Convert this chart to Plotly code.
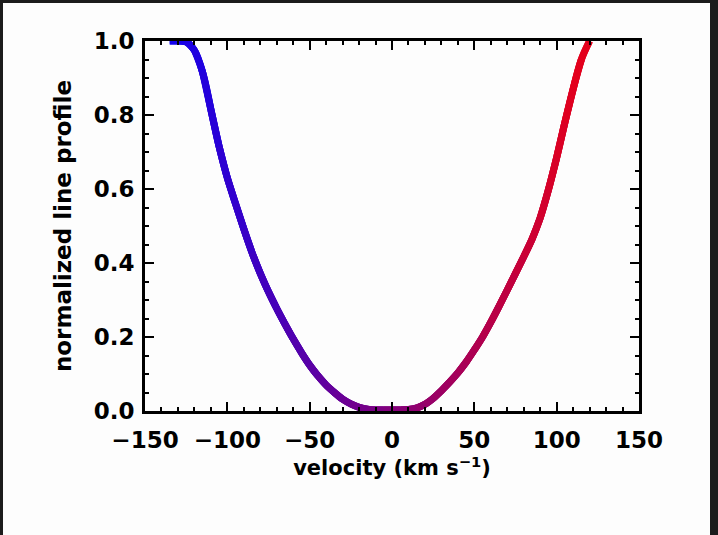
import plotly.graph_objects as go

# Data
velocity = [-135, -130, -125, -120, -115, -110, -105, -100, -95, -90, -85, -80, -75, -70,
            -65, -60, -55, -50, -45, -40, -35, -30, -25, -20, -15, -10, -5, 0, 5, 10,
            15, 20, 25, 30, 35, 40, 45, 50, 55, 60, 65, 70, 75, 80, 85, 90, 95, 100,
            105, 110, 115, 120]
profile = [1.0, 1.0, 0.998, 0.975, 0.915, 0.815, 0.715, 0.63, 0.56, 0.492, 0.428, 0.372, 0.322, 0.277,
           0.235, 0.195, 0.158, 0.124, 0.095, 0.07, 0.05, 0.032, 0.019, 0.010, 0.005, 0.003, 0.003, 0.003, 0.003, 0.004,
           0.008, 0.018, 0.034, 0.055, 0.078, 0.103, 0.132, 0.165, 0.2, 0.24, 0.283, 0.327, 0.372, 0.417, 0.464, 0.522, 0.598, 0.685,
           0.78, 0.87, 0.95, 1.0]

x_ticks = [-150, -100, -50, 0, 50, 100, 150]
y_ticks = [0.0, 0.2, 0.4, 0.6, 0.8, 1.0]
y_ticklabels = ["0.0", "0.2", "0.4", "0.6", "0.8", "1.0"]

FONT = "DejaVu Sans"


def grad_color(v):
    t = (v + 150) / 300.0
    t = min(max(t, 0), 1)
    r = int(round(255 * t))
    b = int(round(255 * (1 - t)))
    return f"rgb({r},0,{b})"


fig = go.Figure()
n = len(velocity)
for i in range(n - 1):
    lo = max(i - 1, 0)
    hi = min(i + 2, n - 1)
    xs = velocity[lo:hi + 1]
    ys = profile[lo:hi + 1]
    vm = (velocity[i] + velocity[i + 1]) / 2
    fig.add_trace(go.Scatter(x=xs, y=ys, mode="lines",
                             line=dict(color=grad_color(vm), width=7, shape="spline", smoothing=1),
                             hoverinfo="skip", showlegend=False))

# Plot-area geometry (pixels) used to place the white slide panel
L, R, T, B = 145, 639, 41, 411
W, H = 718, 535
pw, ph = R - L, B - T
fig.add_shape(type="rect", xref="paper", yref="paper",
              x0=(3 - L) / pw, x1=(710 - L) / pw,
              y0=(B - 535) / ph, y1=(B - 3) / ph,
              fillcolor="#fdfdfd", line=dict(width=0), layer="below")

axis_common = dict(
    showline=True, linecolor="black", linewidth=3, mirror="ticks",
    ticks="inside", ticklen=9, tickwidth=2, tickcolor="black",
    showgrid=False, zeroline=False,
    tickfont=dict(family=FONT, size=23, color="black", weight="bold"),
)

fig.update_xaxes(
    range=[-150, 150], tickvals=x_ticks,
    minor=dict(dtick=10, ticks="inside", ticklen=4, tickwidth=2, tickcolor="black", showgrid=False),
    ticklabelstandoff=6,
    title=dict(text="velocity (km s<sup>−1</sup>)",
               font=dict(family=FONT, size=21, color="black", weight="bold"), standoff=4),
    **axis_common,
)
fig.update_yaxes(
    range=[0, 1], tickvals=y_ticks, ticktext=y_ticklabels,
    minor=dict(dtick=0.05, ticks="inside", ticklen=4, tickwidth=2, tickcolor="black", showgrid=False),
    ticklabelstandoff=3,
    title=dict(text="normalized line profile",
               font=dict(family=FONT, size=23, color="black", weight="bold"), standoff=16),
    **axis_common,
)

fig.update_layout(
    width=W, height=H,
    margin=dict(l=L, r=W - R, t=T, b=H - B),
    paper_bgcolor="#1c1c1c", plot_bgcolor="#fdfdfd",
    showlegend=False,
)

fig.write_html("out.html")
